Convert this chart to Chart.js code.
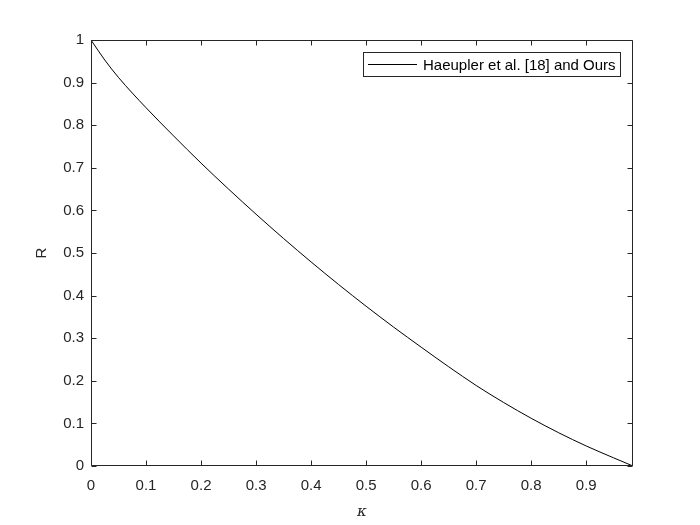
<!DOCTYPE html>
<html>
<head>
<meta charset="utf-8">
<script src="https://cdn.jsdelivr.net/npm/chart.js@4"></script>
<style>
  body { margin: 0; background: #fff; }
  #wrap { width: 700px; height: 525px; }
</style>
</head>
<body>
<div id="wrap"><canvas id="chart" width="700" height="525"></canvas></div>
<script>
// valores
const kappa = [0, 0.025, 0.05, 0.1, 0.15, 0.2, 0.25, 0.3, 0.35, 0.4, 0.45, 0.5,
  0.55, 0.6, 0.65, 0.7, 0.75, 0.8, 0.85, 0.9, 0.95, 0.985];
const rate = [1, 0.953, 0.912, 0.841, 0.775, 0.711, 0.650, 0.591, 0.534, 0.479, 0.426, 0.375,
  0.326, 0.279, 0.233, 0.189, 0.149, 0.112, 0.078, 0.047, 0.019, 0];
const xTicks = [0, 0.1, 0.2, 0.3, 0.4, 0.5, 0.6, 0.7, 0.8, 0.9];
const yTicks = [0, 0.1, 0.2, 0.3, 0.4, 0.5, 0.6, 0.7, 0.8, 0.9, 1];
const seriesName = "Haeupler et al. [18] and Ours";
const xTitle = "\u03BA";
const yTitle = "R";

const axisColor = "#262626";
const labelFont = { family: "'Liberation Sans', Arial, sans-serif", size: 15 };

function fmt(v) {
  return String(+Number(v).toFixed(1));
}

// caja del eje con marcas hacia dentro (estilo MATLAB)
const axesBox = {
  id: "axesBox",
  afterDatasetsDraw(chart) {
    const { ctx, chartArea: a, scales } = chart;
    const L = Math.round(a.left) + 0.5, R = Math.round(a.right) - 0.5;
    const T = Math.round(a.top) + 0.5, B = Math.round(a.bottom) - 0.5;
    const len = 5;
    ctx.save();
    ctx.strokeStyle = axisColor;
    ctx.lineWidth = 1;
    ctx.beginPath();
    ctx.rect(L, T, R - L, B - T);
    xTicks.forEach((v) => {
      const px = Math.round(scales.x.getPixelForValue(v)) + 0.5;
      ctx.moveTo(px, B); ctx.lineTo(px, B - len);
      ctx.moveTo(px, T); ctx.lineTo(px, T + len);
    });
    yTicks.forEach((v) => {
      const py = Math.round(scales.y.getPixelForValue(v)) + 0.5;
      ctx.moveTo(L, py); ctx.lineTo(L + len, py);
      ctx.moveTo(R, py); ctx.lineTo(R - len, py);
    });
    ctx.stroke();
    ctx.restore();
  },
};

// leyenda dentro del area, arriba a la derecha
const boxLegend = {
  id: "boxLegend",
  afterDraw(chart) {
    const { ctx, chartArea: a } = chart;
    const ds = chart.data.datasets[0];
    ctx.save();
    ctx.font = labelFont.size + "px " + labelFont.family;
    const tw = ctx.measureText(ds.label).width;
    const h = 24;
    const right = Math.round(a.right) - 13;
    const left = Math.round(right - (tw + 64));
    const top = Math.round(a.top) + 12.5;
    ctx.fillStyle = "#fff";
    ctx.fillRect(left, top, right - left, h);
    ctx.strokeStyle = axisColor;
    ctx.lineWidth = 1;
    ctx.strokeRect(left + 0.5, top, right - left, h);
    ctx.strokeStyle = ds.borderColor;
    ctx.beginPath();
    ctx.moveTo(left + 5, top + h / 2);
    ctx.lineTo(left + 54, top + h / 2);
    ctx.stroke();
    ctx.fillStyle = "#000";
    ctx.textBaseline = "middle";
    ctx.fillText(ds.label, left + 60, top + h / 2 + 1);
    ctx.restore();
  },
};

const chart = new Chart(document.getElementById("chart"), {
  type: "scatter",
  data: {
    datasets: [
      {
        label: seriesName,
        data: kappa.map((k, i) => ({ x: k, y: rate[i] })),
        showLine: true,
        borderColor: "#000",
        borderWidth: 1,
        pointRadius: 0,
        cubicInterpolationMode: "monotone",
      },
    ],
  },
  options: {
    responsive: false,
    animation: false,
    layout: { padding: { left: 0, top: 40, right: 67, bottom: 0 } },
    plugins: { legend: { display: false }, tooltip: { enabled: false } },
    scales: {
      x: {
        type: "linear",
        min: 0,
        max: 0.985,
        grid: { display: false, drawTicks: false },
        border: { display: false },
        afterFit: (s) => { s.height = 59; },
        afterBuildTicks: (s) => { s.ticks = xTicks.map((v) => ({ value: v })); },
        ticks: { color: axisColor, font: labelFont, padding: 11, maxRotation: 0, autoSkip: false, callback: fmt },
        title: {
          display: true,
          text: xTitle,
          color: axisColor,
          font: { family: "'DejaVu Serif', serif", size: 15, style: "italic" },
          padding: { top: 0, bottom: 4 },
        },
      },
      y: {
        type: "linear",
        min: 0,
        max: 1,
        grid: { display: false, drawTicks: false },
        border: { display: false },
        afterFit: (s) => { s.width = 91; },
        afterBuildTicks: (s) => { s.ticks = yTicks.map((v) => ({ value: v })); },
        ticks: { color: axisColor, font: labelFont, padding: 7, autoSkip: false, callback: fmt },
        title: {
          display: true,
          text: yTitle,
          color: axisColor,
          font: labelFont,
          padding: { top: 33, bottom: 0 },
        },
      },
    },
  },
  plugins: [axesBox, boxLegend],
});
</script>
</body>
</html>
